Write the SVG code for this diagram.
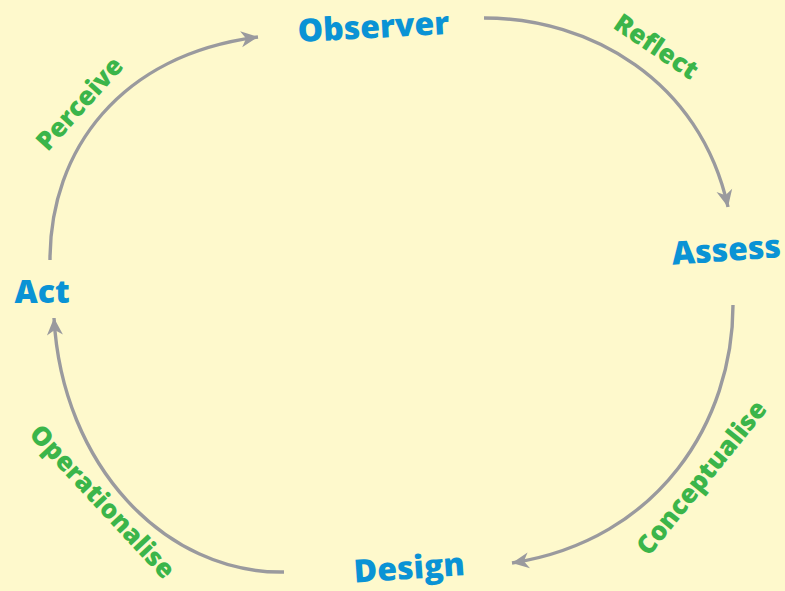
<svg xmlns="http://www.w3.org/2000/svg" width="785" height="591" viewBox="0 0 785 591">
<defs>
<marker id="arr" markerUnits="userSpaceOnUse" viewBox="-18 -10 19 20" markerWidth="19" markerHeight="20" refX="0" refY="0" orient="auto">
<path d="M0,0 L-17,-8 L-12,0 L-17,8 Z" fill="#9A9A9E"/>
</marker>
<style>
.node{font-family:"Open Sans","Noto Sans","Liberation Sans",sans-serif;font-weight:800;font-size:32px;fill:#0A93D5;text-anchor:middle}
.lbl{font-family:"Open Sans","Noto Sans","Liberation Sans",sans-serif;font-weight:800;font-size:26px;fill:#3BB54A;text-anchor:middle}
.arc{fill:none;stroke:#9A9A9E;stroke-width:3.4;marker-end:url(#arr)}
</style>
</defs>
<rect width="785" height="591" fill="#FEF9CC"/>
<g id="connectors">
<path class="arc" d="M50,260 C50,150 120,55 258,37"/>
<path class="arc" d="M484,18 C590,18 700,80 728,207"/>
<path class="arc" d="M733,305 C733,420 660,540 512,563"/>
<path class="arc" d="M284,572 C165,574 62,465 54,318"/>
<text class="lbl" transform="translate(80,104) rotate(-48)" dy="0.32em">Perceive</text>
<text class="lbl" transform="translate(656,47) rotate(34)" dy="0.32em">Reflect</text>
<text class="lbl" transform="translate(702,478) rotate(-51)" dy="0.32em">Conceptualise</text>
<text class="lbl" transform="translate(102,502) rotate(47)" dy="0.32em">Operationalise</text>
</g>
<g id="observer"><text class="node" transform="translate(374,38) rotate(-3)">Observer</text></g>
<g id="assess"><text class="node" transform="translate(727,261) rotate(-4)">Assess</text></g>
<g id="design"><text class="node" transform="translate(410,579) rotate(-4)">Design</text></g>
<g id="act"><text class="node" transform="translate(42,303)">Act</text></g>
</svg>
